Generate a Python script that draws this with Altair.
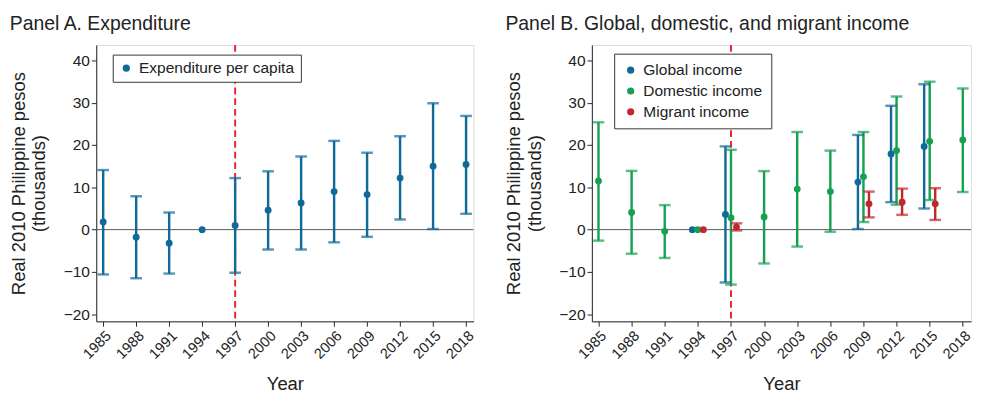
import altair as alt
import pandas as pd

FONT = "Liberation Sans"

years = [1985, 1988, 1991, 1994, 1997, 2000, 2003, 2006, 2009, 2012, 2015, 2018]

# Panel A: expenditure per capita
exp_est = [1.8, -1.8, -3.2, 0.0, 1.0, 4.6, 6.3, 9.0, 8.3, 12.2, 15.0, 15.4]
exp_lo = [-10.6, -11.5, -10.4, None, -10.2, -4.7, -4.7, -3.0, -1.7, 2.4, 0.15, 3.75]
exp_hi = [14.1, 7.9, 4.05, None, 12.2, 13.8, 17.3, 21.0, 18.2, 22.1, 29.9, 26.9]

# Panel B
glob_years = [1994, 1997, 2009, 2012, 2015]
glob_est = [0.0, 3.6, 11.25, 17.9, 19.7]
glob_lo = [None, -12.5, 0.15, 6.5, 5.0]
glob_hi = [None, 19.7, 22.4, 29.3, 34.4]

dom_years = years
dom_est = [11.5, 4.05, -0.4, 0.0, 2.8, 3.0, 9.6, 9.0, 12.5, 18.7, 20.9, 21.2]
dom_lo = [-2.6, -5.7, -6.7, None, -13.0, -8.0, -4.0, -0.5, 1.8, 5.9, 7.0, 8.9]
dom_hi = [25.4, 13.9, 5.8, None, 18.9, 13.85, 23.1, 18.7, 23.1, 31.5, 35.0, 33.4]

mig_years = [1994, 1997, 2009, 2012, 2015]
mig_est = [0.0, 0.6, 6.1, 6.5, 6.1]
mig_lo = [None, -0.2, 2.9, 3.5, 2.3]
mig_hi = [None, 1.5, 9.0, 9.7, 9.8]

series_a = ["Expenditure per capita"]
colors_a = ["#0f6a98"]
series_b = ["Global income", "Domestic income", "Migrant income"]
colors_b = ["#0f6a98", "#16a050", "#c2272e"]
dodge_b = {"Global income": -0.5, "Domestic income": 0.0, "Migrant income": 0.5}

y_ticks = [-20, -10, 0, 10, 20, 30, 40]
PLOT_H = 285


def frame(name, yrs, est, lo, hi, dodge=0.0):
    return pd.DataFrame({
        "series": name,
        "year": yrs,
        "est": est,
        "lo": lo,
        "hi": hi,
        "dodge": dodge,
    })


df_a = frame(series_a[0], years, exp_est, exp_lo, exp_hi)
df_b = pd.concat([
    frame(series_b[0], glob_years, glob_est, glob_lo, glob_hi, dodge_b[series_b[0]]),
    frame(series_b[1], dom_years, dom_est, dom_lo, dom_hi, dodge_b[series_b[1]]),
    frame(series_b[2], mig_years, mig_est, mig_lo, mig_hi, dodge_b[series_b[2]]),
], ignore_index=True)


def panel(df, title, names, colors, xdomain, width, legend_x, legend_y, legend_pad, row_pad):
    yscale = alt.Scale(domain=[-21.7, 43.7], nice=False, zero=False)
    xscale = alt.Scale(domain=xdomain, nice=False, zero=False)
    cscale = alt.Scale(domain=names, range=colors)
    # separate (legend-less) scale for the error-bar strokes and caps
    sscale = alt.Scale(domain=names + ["_"], range=colors + ["#000000"])

    xaxis = alt.Axis(values=years, format="d", labelAngle=-45, labelFontSize=15,
                     labelFont=FONT, labelColor="#222", tickSize=5, tickColor="#222",
                     domainColor="#222", grid=False, titleFont=FONT, titleFontSize=19,
                     titleFontWeight="normal", titleColor="#222", titlePadding=14,
                     labelPadding=2, labelOverlap=False, labelBound=False)
    yaxis = alt.Axis(values=y_ticks, labelFontSize=16, labelFont=FONT, labelColor="#222",
                     tickSize=5, tickColor="#222", domainColor="#222", grid=False,
                     titleFont=FONT, titleFontSize=19, titleFontWeight="normal",
                     titleColor="#222", titlePadding=15, labelPadding=2,
                     titleLineHeight=21, labelOverlap=False)

    x_enc = alt.X("xpos:Q", scale=xscale, axis=xaxis, title="Year")
    y_title = ["Real 2010 Philippine pesos", "(thousands)"]

    base = alt.Chart(df).transform_calculate(xpos="datum.year + datum.dodge")

    zero = alt.Chart(pd.DataFrame({"z": [0]})).mark_rule(color="#555", strokeWidth=1).encode(
        y=alt.Y("z:Q", scale=yscale, axis=yaxis, title=y_title)
    )
    vline = alt.Chart(pd.DataFrame({"v": [1997]})).mark_rule(
        color="#e8242b", strokeWidth=2, strokeDash=[7, 4]
    ).encode(
        x=alt.X("v:Q", scale=xscale, axis=xaxis, title="Year"),
        y=alt.value(0),
        y2=alt.value(PLOT_H),
    )

    ci = base.transform_filter("isValid(datum.lo)")
    bars = ci.mark_rule(strokeWidth=2.5).encode(
        x=x_enc,
        y=alt.Y("lo:Q", scale=yscale, axis=yaxis, title=y_title),
        y2="hi:Q",
        stroke=alt.Stroke("series:N", scale=sscale, legend=None),
    )
    cap_lo = ci.mark_tick(orient="horizontal", size=12, thickness=2.5).encode(
        x=x_enc,
        y=alt.Y("lo:Q", scale=yscale, axis=yaxis, title=y_title),
        fill=alt.Fill("series:N", scale=sscale, legend=None),
    )
    cap_hi = ci.mark_tick(orient="horizontal", size=12, thickness=2.5).encode(
        x=x_enc,
        y=alt.Y("hi:Q", scale=yscale, axis=yaxis, title=y_title),
        fill=alt.Fill("series:N", scale=sscale, legend=None),
    )
    pts = base.mark_circle(size=50, opacity=1).encode(
        x=x_enc,
        y=alt.Y("est:Q", scale=yscale, axis=yaxis, title=y_title),
        color=alt.Color(
            "series:N", scale=cscale,
            legend=alt.Legend(
                orient="none", legendX=legend_x, legendY=legend_y, title=None,
                strokeColor="#333", fillColor="white", padding=legend_pad,
                labelFontSize=16, labelFont=FONT, labelColor="#222", labelLimit=400,
                symbolType="circle", symbolSize=55, rowPadding=row_pad,
                labelOffset=5, symbolStrokeWidth=0,
            ),
        ),
    )

    return alt.layer(zero, vline, bars, cap_lo, cap_hi, pts).properties(
        width=width, height=PLOT_H,
        title=alt.TitleParams(title, anchor="start", frame="bounds", fontSize=20,
                              font=FONT, fontWeight="normal", color="#222", offset=10),
    )


pa = panel(df_a, "Panel A. Expenditure", series_a, colors_a, [1984.37, 2018.68], 389,
           17, 10, 6, 5)
pb = panel(df_b, "Panel B. Global, domestic, and migrant income", series_b, colors_b,
           [1984.4, 2018.75], 391, 23, 9, 9, 5.5)

chart = alt.hconcat(pa, pb, spacing=28).resolve_scale(
    color="independent", stroke="independent", fill="independent",
    x="independent", y="independent"
).resolve_legend(color="independent").properties(
    padding={"left": 1, "top": 0, "right": 0, "bottom": 0}
).configure_view(stroke=None).configure_axis(grid=False).configure(background="white")

chart.save("out.html", embed_options={"renderer": "svg", "actions": False})
